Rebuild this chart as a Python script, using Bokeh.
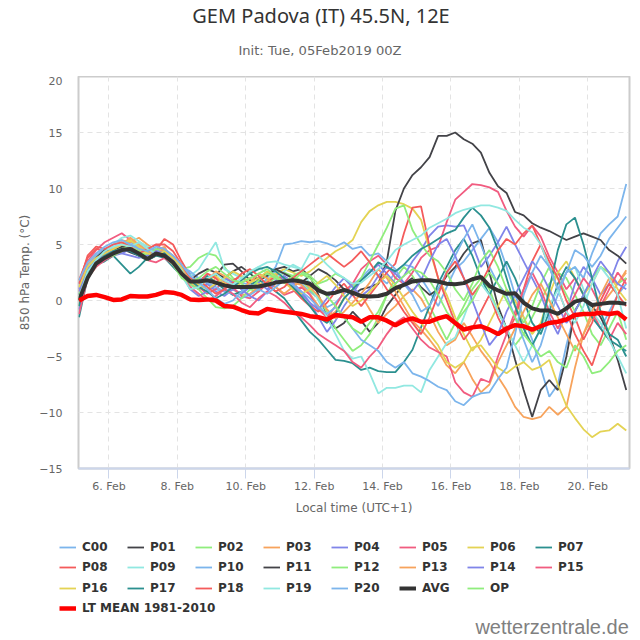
from bokeh.plotting import figure
from bokeh.layouts import column
from bokeh.models import Range1d, FixedTicker, Legend, LegendItem, Label
from bokeh.embed import file_html
from bokeh.resources import INLINE

# time axis: day of February 2019, local time (UTC+1), 6-hourly steps
t_start = 5.125
t_step = 0.25
x_min, x_max = 5.11, 21.22
y_min, y_max = -15, 20

x_ticks = [6, 8, 10, 12, 14, 16, 18, 20]
x_tick_labels = ["6. Feb", "8. Feb", "10. Feb", "12. Feb", "14. Feb", "16. Feb", "18. Feb", "20. Feb"]
y_ticks = [-15, -10, -5, 0, 5, 10, 15, 20]

title_text = "GEM Padova (IT) 45.5N, 12E"
subtitle_text = "Init: Tue, 05Feb2019 00Z"
x_label = "Local time (UTC+1)"
y_label = "850 hPa Temp. (°C)"
credit_text = "wetterzentrale.de"

C00 = [1.5, 3.0, 3.8, 4.3, 4.8, 5.0, 5.2, 4.8, 4.2, 4.5, 4.3, 3.8, 3.0,
       2.4, 2.0, 1.5, 1.0, 0.8, 1.2, 1.6, 1.4, 1.8, 2.2, 2.6, 2.4, 2.0,
       1.5, 0.8, 0.2, -0.6, -0.2, 0.6, 1.4, 2.0, 2.8, 2.2, 1.5, 2.5, 3.2,
       3.0, 2.0, 0.8, -0.5, 1.2, 2.8, 3.5, 4.5, 5.5, 6.5, 5.2, 3.0, 0.5,
       -1.5, -3.5, -6.0, -8.6, -7.5, -4.0, -1.0, 0.5, -1.5, -2.5, -1.0, 0.5, 1.5]
P01 = [0.5, 2.5, 3.5, 4.2, 4.5, 4.6, 4.3, 4.0, 3.6, 4.2, 4.0, 3.5, 2.5,
       1.8, 1.6, 2.0, 2.2, 3.2, 3.3, 2.6, 1.8, 2.0, 2.4, 2.8, 3.0, 2.6,
       2.8, 2.2, 0.5, -1.5, -2.5, -2.0, -1.0, -1.8, -2.8, -2.0, -0.5, 0.5, 1.5,
       2.0, 1.2, 0.5, 1.0, 2.2, 3.0, 4.2, 5.1, 5.4, 2.5, -0.5, -2.5, -5.3,
       -8.0, -10.4, -8.0, -7.1, -8.0, -5.0, -0.9, 0.3, -0.5, -1.5, -3.0, -5.3, -8.0]
P02 = [-0.5, 2.0, 3.0, 3.8, 4.2, 4.8, 5.0, 4.5, 3.8, 4.5, 4.2, 3.5, 2.8,
       3.0, 3.8, 4.2, 4.0, 3.0, 2.0, 1.5, 1.0, 0.8, 1.5, 2.0, 2.5, 2.2,
       1.8, 1.0, 0.2, -1.0, -2.5, -3.5, -4.5, -4.0, -3.0, -1.5, 0.5, 2.0, 3.0,
       2.2, 1.0, -0.5, -2.0, -3.5, -2.0, -0.5, 1.0, 2.0, 1.0, -1.0, -2.5, -4.0,
       -3.0, -1.5, 0.0, 1.5, 2.5, 2.0, 0.5, -1.0, -3.0, -4.0, -2.5, -1.0, -3.5]
P03 = [0.8, 3.2, 4.0, 4.5, 5.0, 5.4, 5.2, 5.6, 5.0, 4.5, 4.8, 3.5, 2.5,
       1.5, 1.0, 1.4, 2.0, 1.6, 1.0, 0.5, 0.6, 1.2, 1.8, 2.4, 2.0, 1.6,
       1.4, 0.6, -0.5, -1.5, -1.0, 0.2, 1.0, 0.5, -0.8, -2.0, -1.2, -0.5, 0.4,
       1.0, 0.2, -1.2, -2.8, -4.0, -3.5, -2.0, -3.2, -4.5, -5.5, -6.8, -8.0, -9.5,
       -10.4, -10.6, -10.4, -9.5, -10.2, -9.5, -6.0, -3.0, -1.5, -0.5, 0.5, 1.5, 2.5]
P04 = [-0.8, 2.0, 3.2, 3.8, 4.0, 4.2, 4.6, 4.4, 3.8, 4.0, 3.9, 3.2, 2.2,
       1.4, 1.0, 1.5, 0.8, 0.4, 1.0, 0.6, 1.2, 1.6, 1.0, 1.8, 2.2, 1.6,
       0.8, -0.2, -1.5, -2.8, -1.8, -0.5, 0.6, 1.8, 2.5, 3.2, 2.4, 1.5, 2.2,
       3.5, 4.5, 5.8, 6.6, 6.7, 6.6, 6.7, 5.0, 3.0, 4.0, 5.2, 6.6, 5.0,
       3.5, 2.0, 0.5, -1.5, -3.0, -1.0, 1.5, 3.0, 2.0, 0.5, 1.5, 3.5, 4.8]
P05 = [1.0, 3.5, 4.5, 5.2, 5.6, 6.0, 5.4, 5.0, 4.5, 5.0, 4.4, 3.8, 2.8,
       2.0, 1.2, 0.6, 1.0, 1.8, 1.2, 0.4, 0.2, 0.8, 1.5, 1.2, 0.5, 0.8,
       1.2, 0.5, -0.8, -1.5, -0.5, 0.8, 1.5, 2.8, 3.5, 4.0, 3.2, 2.0, 1.5,
       2.5, 3.8, 4.5, 4.8, 7.0, 9.0, 9.7, 10.4, 10.3, 10.1, 9.7, 8.0, 6.6,
       5.7, 6.7, 5.7, 3.9, 2.5, 1.0, 2.0, 0.5, -1.0, -2.5, -3.5, -2.0, -3.0]
P06 = [0.2, 2.5, 3.5, 4.0, 4.5, 4.8, 5.0, 4.6, 4.0, 4.3, 4.0, 3.4, 2.6,
       1.6, 1.2, 1.8, 2.2, 1.5, 1.2, 1.6, 2.0, 1.4, 1.8, 2.4, 2.8, 2.5,
       2.2, 2.6, 3.2, 3.8, 4.4, 4.8, 5.4, 7.0, 8.0, 8.5, 8.8, 8.8, 8.6,
       8.2, 7.2, 4.5, 2.0, 0.5, -1.5, -3.0, -4.5, -3.5, -2.0, -0.5, 1.0, 0.0,
       -1.5, -3.0, -2.0, 0.5, 2.5, 3.5, 2.0, 0.5, 1.5, 3.0, 2.5, 1.0, 0.0]
P07 = [-1.5, 2.0, 3.2, 3.5, 4.0, 3.2, 2.4, 3.0, 3.8, 4.0, 3.8, 3.0, 2.2,
       1.6, 1.8, 2.2, 1.6, 1.0, 0.5, 0.8, 1.4, 1.8, 1.5, 0.8, 0.2, -0.8,
       -1.8, -2.8, -3.5, -4.4, -5.3, -5.4, -5.6, -6.2, -6.0, -6.3, -6.4, -6.4, -5.5,
       -4.4, -2.4, -0.5, 1.5, 3.0, 4.5, 5.5, 4.0, 2.0, 0.5, 2.0, 3.5, 2.0,
       0.0, -2.0, -3.0, -1.0, 1.5, 3.0, 2.0, 0.5, -1.5, -2.5, -3.5, -4.0, -4.5]
P08 = [1.8, 3.8, 4.6, 4.4, 4.2, 4.5, 4.8, 5.2, 4.8, 4.5, 5.5, 5.0, 3.5,
       2.2, 1.6, 2.4, 2.0, 1.2, 1.8, 2.2, 1.4, 1.0, 1.6, 2.2, 1.8, 1.0,
       0.2, -0.5, -1.0, -0.2, 0.8, 1.5, 0.5, -0.5, 0.5, 1.5, 2.5, 3.3, 6.0,
       8.3, 8.4, 4.8, 2.0, 0.0, -2.0, -3.5, -2.5, -1.0, 0.5, -1.5, -3.0, -1.5,
       1.0, 3.5, 5.0, 3.0, 1.0, -1.0, -3.0, -4.5, -5.8, -3.5, -1.5, 0.5, 2.0]
P09 = [0.5, 2.8, 3.8, 4.5, 5.0, 5.6, 5.8, 5.3, 4.8, 4.6, 4.2, 3.5, 2.8,
       2.2, 2.8, 4.0, 5.2, 2.8, 2.4, 2.0, 2.5, 3.0, 2.4, 2.0, 2.6, 3.2,
       2.8, 1.5, 0.0, -1.5, -3.0, -4.5, -5.2, -5.0, -6.5, -8.3, -7.8, -7.8, -7.6,
       -7.6, -8.2, -6.2, -5.0, -3.8, -3.3, -1.5, 0.5, 1.5, 0.5, -1.0, -2.5, -4.0,
       -5.5, -4.0, -2.5, -0.5, 1.0, 2.5, 3.0, 1.0, -1.0, -2.0, -3.5, -5.0, -6.5]
P10 = [1.0, 3.0, 4.0, 4.6, 5.0, 5.2, 5.0, 4.7, 4.3, 4.6, 4.2, 3.6, 3.0,
       2.6, 2.0, 1.6, 1.2, 0.8, 0.6, 0.2, 0.5, 1.0, 2.0, 3.0, 5.0, 5.1,
       5.3, 5.2, 5.3, 5.1, 4.8, 5.2, 4.6, 4.8, 4.0, 4.2, 3.5, 2.8, 1.5,
       0.5, -1.0, -0.5, 1.0, 2.5, 4.0, 5.5, 6.8, 5.0, 3.0, 1.5, 0.5, -1.5,
       -3.5, -5.5, -4.0, -1.5, 0.5, 2.5, 3.0, 2.0, 4.2, 6.0, 6.8, 7.5, 10.4]
P11 = [0.0, 2.2, 3.8, 4.5, 4.4, 4.8, 4.6, 4.0, 3.6, 4.0, 4.3, 3.5, 2.4,
       1.8, 2.4, 2.8, 2.5, 2.0, 2.6, 3.0, 2.4, 1.8, 2.2, 2.8, 2.4, 2.0,
       1.6, 2.2, 2.8, 2.4, 1.8, 1.0, 0.5, 1.0, 1.2, 1.5, 3.5, 8.0, 10.0,
       11.2, 11.9, 12.8, 14.7, 14.7, 15.0, 14.4, 14.0, 13.2, 11.4, 10.2, 9.6, 7.9,
       7.6, 6.9, 6.5, 6.2, 5.8, 5.4, 5.7, 6.0, 5.7, 5.4, 4.5, 4.0, 3.3]
P12 = [0.5, 2.4, 3.4, 4.0, 4.4, 4.6, 4.8, 4.4, 4.0, 4.6, 4.4, 3.6, 2.6,
       1.4, 1.0, 0.2, -0.6, -0.7, -0.5, 0.2, 1.0, 1.8, 2.4, 2.0, 1.6, 2.2,
       2.6, 2.2, 1.5, 1.8, 2.4, 2.0, 1.2, 2.0, 3.5, 5.0, 6.5, 8.2, 8.5,
       6.3, 5.0, 4.0, 3.5, 2.5, 1.0, 0.0, 1.5, 3.5, 4.5, 3.0, 1.0, -0.5,
       -2.0, -0.5, 1.5, 3.0, 2.0, 0.5, -1.0, 0.5, 2.0, 3.0, 2.5, 1.5, 2.0]
P13 = [0.0, 2.6, 3.6, 4.2, 4.6, 5.0, 5.6, 5.0, 4.4, 4.2, 4.6, 4.0, 3.0,
       2.0, 1.4, 1.8, 2.6, 2.2, 1.6, 1.0, 1.6, 2.4, 2.0, 1.2, 0.6, 1.2,
       1.8, 1.2, 0.4, -0.8, -1.6, -1.0, -0.2, 0.6, 1.6, 2.8, 2.0, 0.8, -0.5,
       -1.8, -2.6, -3.5, -4.5, -5.8, -6.5, -5.5, -7.0, -8.2, -7.5, -5.5, -4.0, -2.5,
       -1.0, 0.5, 1.5, 0.0, -1.5, -3.0, -4.5, -3.0, -1.0, 0.5, 2.0, 1.5, 2.7]
P14 = [0.8, 2.8, 3.6, 4.2, 4.4, 4.2, 4.0, 3.8, 4.0, 4.4, 4.2, 3.6, 2.4,
       1.0, 0.4, 0.8, 1.4, 2.0, 1.6, 1.0, 0.4, 0.0, 0.8, 1.6, 2.0, 1.4,
       0.6, -0.2, -0.8, 0.2, 1.2, 2.0, 1.2, 0.4, 1.0, 2.2, 3.0, 2.4, 1.6,
       0.8, 1.8, 3.5, 5.0, 5.5, 4.0, 2.0, 0.0, -2.0, -4.0, -3.0, -1.0, 0.5,
       2.0, 3.5, 2.5, 1.0, -0.5, -2.0, -1.0, 0.5, 2.0, 3.5, 2.5, 1.5, 1.0]
P15 = [-1.2, 2.0, 3.0, 3.6, 4.0, 4.4, 4.8, 4.2, 3.6, 3.4, 3.8, 3.2, 2.2,
       1.2, 0.6, 0.0, 0.4, 1.0, 0.6, -0.2, -0.6, 0.2, 0.8, 0.4, -0.2, -1.0,
       -1.5, -2.2, -3.0, -3.5, -4.0, -4.5, -5.5, -6.0, -5.0, -4.2, -3.0, -2.0, -1.5,
       -2.5, -3.5, -4.2, -4.6, -5.0, -7.3, -8.2, -8.6, -7.0, -7.3, -5.0, -3.0, -1.0,
       1.0, 2.5, 1.0, -1.0, -2.5, -1.0, 0.5, 2.0, 1.0, -0.5, 1.0, 2.5, 1.5]
P16 = [1.2, 3.0, 3.8, 4.2, 4.6, 5.0, 5.4, 4.8, 4.2, 4.0, 4.4, 3.8, 3.0,
       2.0, 1.4, 1.0, 1.5, 2.0, 2.6, 2.2, 1.6, 2.0, 2.6, 2.2, 1.6, 1.0,
       0.6, 1.0, 1.6, 2.2, 1.4, 0.4, -0.5, 0.0, 0.8, 1.6, 2.2, 1.4, 0.2,
       -1.0, -2.0, -3.0, -4.0, -5.5, -6.0, -5.5, -4.2, -4.0, -5.0, -6.0, -6.5, -5.9,
       -5.5, -6.2, -5.9, -5.3, -7.5, -9.4, -10.5, -11.5, -12.2, -11.7, -11.6, -11.0, -11.6]
P17 = [-0.5, 2.6, 3.4, 4.0, 4.4, 4.6, 4.4, 4.0, 3.6, 4.0, 4.2, 3.4, 2.4,
       1.8, 1.2, 0.8, 0.2, 0.6, 1.2, 1.8, 2.4, 2.8, 3.0, 2.6, 2.0, 1.2,
       0.4, -0.5, -1.5, -2.0, -1.2, 0.2, 1.0, 1.8, 2.5, 3.4, 3.0, 2.6, 3.2,
       4.0, 4.6, 5.0, 5.5, 6.0, 6.3, 7.4, 8.3, 7.6, 6.5, 4.5, 2.0, -0.5,
       -2.5, -4.0, -2.5, 1.0, 4.5, 6.8, 7.4, 5.0, 2.0, -1.0, -3.0, -3.5, -5.0]
P18 = [1.5, 4.0, 4.8, 4.6, 5.0, 5.2, 4.8, 4.2, 4.6, 5.0, 5.0, 4.4, 3.2,
       2.0, 1.8, 1.2, 0.6, 1.0, 1.6, 2.4, 2.8, 2.2, 1.4, 0.8, 1.2, 2.0,
       2.6, 3.2, 3.8, 4.2, 3.6, 3.0, 3.6, 4.4, 3.4, 2.2, 1.0, 0.2, -1.0,
       -2.0, -3.0, -1.5, 0.5, 2.5, 3.5, 2.0, 0.5, 1.5, 3.0, 4.5, 5.5, 5.0,
       6.0, 6.7, 5.0, 3.5, 2.0, 0.0, -1.5, -3.5, -2.0, 0.0, 1.5, 0.5, -0.5]
P19 = [0.2, 2.6, 3.6, 4.4, 4.8, 5.0, 4.8, 5.2, 4.6, 4.2, 4.0, 3.2, 2.2,
       1.0, 1.2, 2.0, 2.4, 1.8, 1.4, 2.0, 2.6, 3.0, 3.4, 3.5, 3.2, 3.0,
       2.8, 4.2, 4.0, 3.2, 2.5, 2.0, 1.5, 1.6, 2.2, 2.8, 3.5, 4.5, 5.0,
       5.4, 5.8, 6.5, 6.9, 7.3, 7.8, 8.1, 8.3, 8.5, 8.5, 8.3, 8.0, 7.2,
       6.5, 6.1, 5.0, 3.0, 1.0, -1.0, -2.0, -0.5, 1.5, 3.0, 2.0, 0.5, -2.5]
P20 = [1.8, 3.4, 4.2, 4.8, 5.2, 5.4, 5.0, 4.6, 4.4, 4.8, 4.6, 4.0, 3.2,
       2.2, 1.6, 1.0, 0.2, -0.3, 0.0, 0.8, 1.4, 1.0, 0.6, 1.2, 1.8, 1.4,
       0.8, 0.2, -0.6, -1.2, -0.6, -1.5, -2.5, -3.5, -4.0, -4.5, -5.5, -6.0, -5.5,
       -6.5, -6.8, -7.2, -7.7, -8.0, -9.0, -9.35, -8.6, -8.3, -8.2, -7.0, -6.0, -3.0,
       0.5, 2.5, 4.0, 3.0, 1.0, 2.5, 4.5, 4.0, 3.0, 4.0, 5.5, 6.5, 7.5]
OP = [0.0, 2.2, 3.2, 3.8, 4.0, 4.4, 4.6, 4.2, 3.6, 4.2, 4.0, 3.2, 2.0,
      1.6, 2.0, 2.6, 3.0, 2.4, 1.8, 1.6, 2.0, 2.4, 2.8, 2.2, 1.6, 1.8,
      2.4, 2.0, 1.2, 0.4, -0.5, -1.5, -2.5, -3.0, -2.0, -1.0, 0.5, 1.5, 2.2,
      2.8, 2.5, 1.8, 0.5, -1.0, -2.0, -1.0, 0.0, 1.5, 2.5, 1.5, 0.0, -1.5,
      -3.0, -4.0, -5.0, -4.5, -5.5, -6.0, -4.0, -5.0, -6.5, -6.3, -5.5, -4.5, -4.0]
AVG = [0.0, 2.0, 3.3, 3.8, 4.2, 4.5, 4.6, 4.2, 3.7, 4.2, 4.0, 3.4, 2.4,
       1.7, 1.7, 1.8, 1.6, 1.35, 1.2, 1.2, 1.2, 1.25, 1.4, 1.6, 1.7, 1.8,
       1.7, 1.5, 0.9, 0.6, 0.7, 0.95, 0.7, 0.4, 0.35, 0.4, 0.6, 1.1, 1.4,
       1.7, 1.8, 1.8, 1.7, 1.5, 1.45, 1.55, 1.9, 2.1, 1.3, 0.9, 0.6, 0.65,
       -0.2, -0.7, -0.9, -0.9, -1.2, -0.7, -0.1, 0.1, -0.4, -0.3, -0.2, -0.2, -0.3]
LT_MEAN = [0.0, 0.4, 0.5, 0.3, 0.05, 0.1, 0.4, 0.35, 0.35, 0.5, 0.75, 0.7, 0.5,
           0.1, 0.05, 0.1, 0.0, -0.5, -0.55, -0.85, -1.1, -1.15, -0.75, -0.9, -1.0, -1.1,
           -1.2, -1.4, -1.5, -1.7, -1.3, -1.4, -1.5, -1.9, -1.5, -1.5, -1.8, -2.2, -1.8,
           -1.6, -1.9, -1.9, -1.6, -1.4, -2.0, -2.6, -2.4, -2.3, -2.6, -3.0, -2.5, -2.2,
           -2.3, -2.6, -2.3, -2.0, -1.9, -1.7, -1.3, -1.2, -1.2, -1.1, -1.2, -1.1, -1.7]

member_names = ["C00", "P01", "P02", "P03", "P04", "P05", "P06", "P07", "P08", "P09", "P10",
                "P11", "P12", "P13", "P14", "P15", "P16", "P17", "P18", "P19", "P20"]
member_values = [C00, P01, P02, P03, P04, P05, P06, P07, P08, P09, P10,
                 P11, P12, P13, P14, P15, P16, P17, P18, P19, P20]
palette = ["#7cb5ec", "#434348", "#90ed7d", "#f7a35c", "#8085e9",
           "#f15c80", "#e4d354", "#2b908f", "#f45b5b", "#91e8e1"]
member_colors = [palette[i % 10] for i in range(len(member_names))]

for v in member_values + [OP, AVG, LT_MEAN]:
    assert len(v) == 65, len(v)


def times(vals):
    return [t_start + t_step * i for i in range(len(vals))]


FONT = "DejaVu Sans"
W = 640
TOP_H = 76
FRAME_W, FRAME_H = 551, 392
BORDER_L, BORDER_B = 78, 48
MAIN_H = FRAME_H + BORDER_B
BOT_H = 640 - TOP_H - MAIN_H
NAN = float("nan")


def blank(height):
    f = figure(width=W, height=height, output_backend="svg", toolbar_location=None,
               title=None, x_axis_location=None, y_axis_location=None,
               x_range=Range1d(0, 1), y_range=Range1d(0, 1), min_border=0,
               background_fill_color="white", border_fill_color="white")
    f.outline_line_color = None
    f.grid.visible = False
    f.frame_align = False
    return f


# ---- header: title and subtitle (vertical centres in page pixels) ----
head = blank(TOP_H)
head.add_layout(Label(x=320.5, y=TOP_H - 15.0, x_units="screen", y_units="screen", text=title_text,
                      text_font="Noto Sans", text_font_size="20px", text_color="#333333",
                      text_align="center", text_baseline="middle"))
head.add_layout(Label(x=319.5, y=TOP_H - 49.8, x_units="screen", y_units="screen", text=subtitle_text,
                      text_font=FONT, text_font_size="13.1px", text_color="#666666",
                      text_align="center", text_baseline="middle"))

# ---- main chart ----
p = figure(frame_width=FRAME_W, frame_height=FRAME_H, output_backend="svg", toolbar_location=None,
           title=None, x_range=Range1d(x_min, x_max), y_range=Range1d(y_min, y_max),
           min_border_left=BORDER_L, min_border_right=W - BORDER_L - FRAME_W,
           min_border_top=0, min_border_bottom=BORDER_B,
           background_fill_color="white", border_fill_color="white")
p.frame_align = False
p.outline_line_color = "#cccccc"
p.outline_line_width = 2

p.xaxis.ticker = FixedTicker(ticks=x_ticks)
p.xaxis.major_label_overrides = {t: lab for t, lab in zip(x_ticks, x_tick_labels)}
p.xaxis.minor_tick_line_color = None
p.xaxis.major_tick_out = 10
p.xaxis.major_tick_in = 0
p.xaxis.major_tick_line_color = "#ccd6eb"
p.xaxis.axis_line_color = "#ccd6eb"
p.xaxis.axis_line_width = 2
p.xaxis.major_label_standoff = 1
p.xaxis.major_label_text_font = FONT
p.xaxis.major_label_text_font_size = "11px"
p.xaxis.major_label_text_color = "#666666"
p.xaxis.axis_label = x_label
p.xaxis.axis_label_text_font = FONT
p.xaxis.axis_label_text_font_size = "12px"
p.xaxis.axis_label_text_font_style = "normal"
p.xaxis.axis_label_text_color = "#666666"
p.xaxis.axis_label_standoff = 5

p.yaxis.ticker = FixedTicker(ticks=y_ticks)
p.yaxis.minor_tick_line_color = None
p.yaxis.major_tick_line_color = None
p.yaxis.axis_line_color = None
p.yaxis.major_tick_out = 0
p.yaxis.major_tick_in = 0
p.yaxis.major_label_standoff = 16
p.yaxis.major_label_text_font = FONT
p.yaxis.major_label_text_font_size = "11px"
p.yaxis.major_label_text_color = "#666666"
p.yaxis.axis_label = y_label
p.yaxis.axis_label_text_font = FONT
p.yaxis.axis_label_text_font_size = "12px"
p.yaxis.axis_label_text_font_style = "normal"
p.yaxis.axis_label_text_color = "#666666"
p.yaxis.axis_label_standoff = 4

p.xgrid.ticker = FixedTicker(ticks=x_ticks)
p.ygrid.ticker = FixedTicker(ticks=y_ticks)
for g in (p.xgrid, p.ygrid):
    g.grid_line_color = "#e3e3e3"
    g.grid_line_dash = "5 4"
    g.grid_line_width = 1

series_style = {}
for name, vals, col in zip(member_names, member_values, member_colors):
    p.line(times(vals), vals, line_color=col, line_width=1.8)
    series_style[name] = (col, 1.8)
p.line(times(OP), OP, line_color="#90ed7d", line_width=1.8)
series_style["OP"] = ("#90ed7d", 1.8)
p.line(times(AVG), AVG, line_color="#333333", line_width=4)
series_style["AVG"] = ("#333333", 4)
p.line(times(LT_MEAN), LT_MEAN, line_color="#ff0000", line_width=4.5)
series_style["LT MEAN 1981-2010"] = ("#ff0000", 4.5)

# ---- legend block and credit ----
foot = blank(BOT_H)
foot_top = TOP_H + MAIN_H
legend_rows = [member_names[0:8], member_names[8:16], member_names[16:21] + ["AVG", "OP"],
               ["LT MEAN 1981-2010"]]
row_centers = [545.7, 566.0, 586.7, 607.3]   # page y of each legend row
item_h = 16
for names, cy in zip(legend_rows, row_centers):
    items = []
    for n in names:
        col, lw = series_style[n]
        r = foot.line([NAN], [NAN], line_color=col, line_width=lw)
        items.append(LegendItem(label=n, renderers=[r]))
    top = cy - item_h / 2 - foot_top
    lg = Legend(items=items, orientation="horizontal",
                location=(59, BOT_H - top - item_h),
                glyph_width=17, glyph_height=item_h, label_height=item_h, label_width=40,
                label_standoff=6, spacing=5, padding=0, margin=0,
                border_line_color=None, background_fill_alpha=0,
                label_text_font=FONT, label_text_font_style="bold",
                label_text_font_size="12px", label_text_color="#333333")
    foot.add_layout(lg)

foot.add_layout(Label(x=628.3, y=640 - 625.5, x_units="screen", y_units="screen", text=credit_text,
                      text_font="Liberation Sans", text_font_size="20px", text_color="#808080",
                      text_align="right", text_baseline="middle"))

layout = column(head, p, foot, spacing=0)
open("out.html", "w").write(file_html(layout, INLINE))
